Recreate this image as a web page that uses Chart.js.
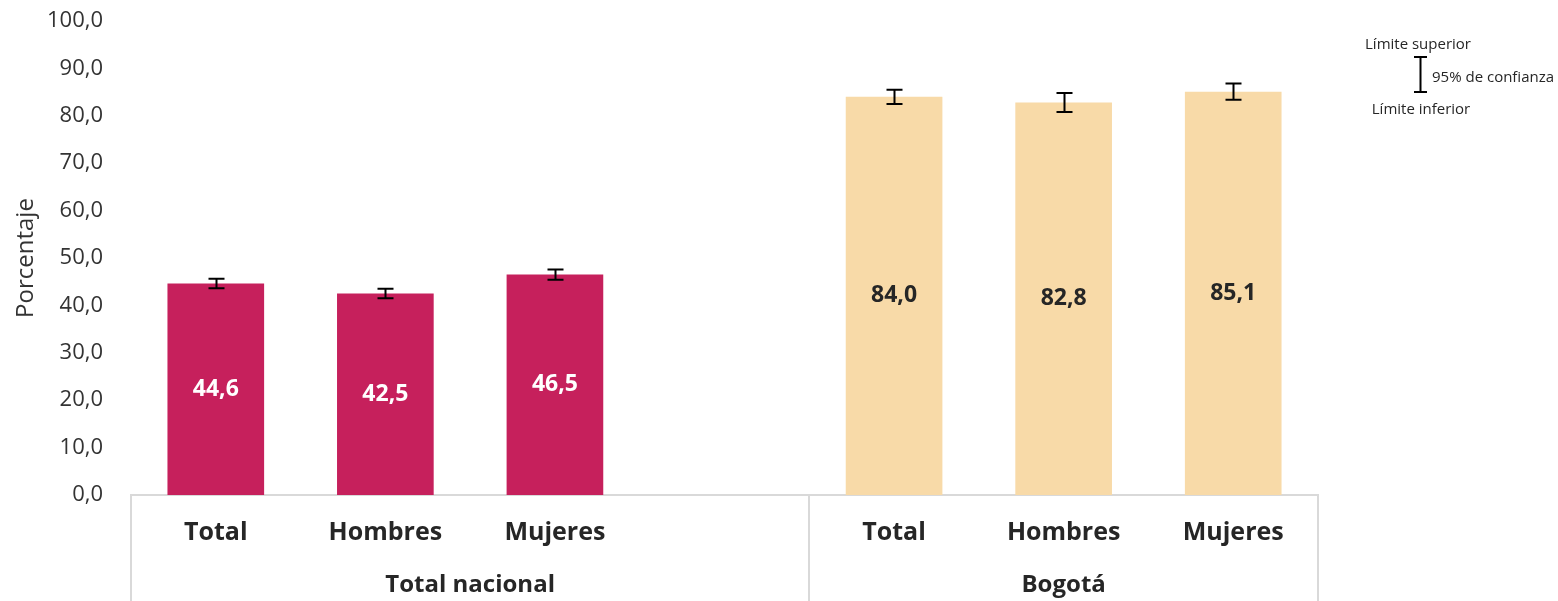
<!DOCTYPE html>
<html><head><meta charset="utf-8">
<script src="https://cdn.jsdelivr.net/npm/chart.js@4/dist/chart.umd.min.js"></script>
<style>html,body{margin:0;padding:0;background:#fff}#wrap{width:1558px;height:601px}</style>
</head><body><div id="wrap"><canvas id="c" width="1558" height="601"></canvas></div>
<script>
// ---- data ----
const categories = ["Total", "Hombres", "Mujeres", "", "Total", "Hombres", "Mujeres"];
const groups = ["Total nacional", "Bogotá"];
const groupStart = [0, 4];
const groupEnd = [4, 7];
const values = [44.6, 42.5, 46.5, null, 84.0, 82.8, 85.1];
const lowerCI = [43.6, 41.5, 45.4, null, 82.5, 80.8, 83.4];
const upperCI = [45.6, 43.5, 47.6, null, 85.5, 84.8, 86.8];
const yMin = 0, yMax = 100, yStep = 10;
const legendTexts = ["Límite superior", "95% de confianza", "Límite inferior"];

// ---- style ----
const FONT = "'Open Sans', 'Noto Sans', sans-serif";
const CRIMSON = '#C6205C';
const PEACH = '#F8DAA8';
const AXIS_GREY = '#d9d9d9';
const fmt = v => v.toFixed(1).replace('.', ',');

const errorBars = {
  id: 'errorBars',
  afterDatasetsDraw(chart) {
    const ctx = chart.ctx, meta = chart.getDatasetMeta(0), y = chart.scales.y;
    ctx.save();
    ctx.strokeStyle = '#000'; ctx.lineWidth = 2; ctx.lineCap = 'butt';
    meta.data.forEach((bar, i) => {
      if (values[i] == null) return;
      const x = Math.round(bar.x) + 0.5;
      const yl = y.getPixelForValue(lowerCI[i]), yu = y.getPixelForValue(upperCI[i]);
      ctx.beginPath();
      ctx.moveTo(x, yl); ctx.lineTo(x, yu);
      ctx.moveTo(x - 8, yl); ctx.lineTo(x + 8, yl);
      ctx.moveTo(x - 8, yu); ctx.lineTo(x + 8, yu);
      ctx.stroke();
    });
    // data labels
    ctx.font = `bold 23px ${FONT}`;
    ctx.textAlign = 'center'; ctx.textBaseline = 'middle';
    meta.data.forEach((bar, i) => {
      if (values[i] == null) return;
      ctx.fillStyle = i < 4 ? '#ffffff' : '#262626';
      ctx.fillText(fmt(values[i]), bar.x, (bar.y + bar.base) / 2);
    });
    ctx.restore();
  }
};

const groupAxis = {
  id: 'groupAxis',
  afterDraw(chart) {
    const ctx = chart.ctx, xs = chart.scales.x;
    const slot = (xs.right - xs.left) / categories.length;
    ctx.save();
    ctx.strokeStyle = AXIS_GREY; ctx.lineWidth = 2;
    const bounds = [0, groupEnd[0], categories.length];
    ctx.beginPath();
    bounds.forEach(b => {
      const x = Math.round(xs.left + slot * b);
      ctx.moveTo(x, xs.top); ctx.lineTo(x, chart.height);
    });
    ctx.stroke();
    ctx.fillStyle = '#262626';
    ctx.font = `bold 24px ${FONT}`;
    ctx.textAlign = 'center'; ctx.textBaseline = 'middle';
    groups.forEach((g, k) => {
      const cx = xs.left + slot * (groupStart[k] + groupEnd[k]) / 2;
      ctx.fillText(g, cx, 585);
    });
    // CI legend
    const lx = 1420;
    ctx.font = `15px ${FONT}`;
    ctx.fillStyle = '#262626';
    ctx.fillText(legendTexts[0], lx - 2, 45);
    ctx.fillText(legendTexts[2], lx + 1, 110);
    ctx.textAlign = 'left';
    ctx.fillText(legendTexts[1], lx + 12, 78);
    ctx.strokeStyle = '#000'; ctx.lineWidth = 2;
    ctx.beginPath();
    ctx.moveTo(lx + 0.5, 57); ctx.lineTo(lx + 0.5, 92);
    ctx.moveTo(lx - 6, 57); ctx.lineTo(lx + 7, 57);
    ctx.moveTo(lx - 6, 92); ctx.lineTo(lx + 7, 92);
    ctx.stroke();
    ctx.restore();
  }
};

new Chart(document.getElementById('c'), {
  type: 'bar',
  data: {
    labels: categories,
    datasets: [{
      data: values,
      backgroundColor: c => c.dataIndex < 4 ? CRIMSON : PEACH,
      barPercentage: 0.57,
      categoryPercentage: 1
    }]
  },
  options: {
    responsive: false,
    animation: false,
    layout: { padding: { top: 21, right: 240, bottom: 0, left: 0 } },
    plugins: { legend: { display: false }, tooltip: { enabled: false } },
    scales: {
      x: {
        grid: { display: false, drawTicks: false },
        border: { display: true, color: AXIS_GREY, width: 2 },
        ticks: { font: { family: FONT, size: 25, weight: 'bold' }, color: '#262626', padding: 23, autoSkip: false, maxRotation: 0 },
        afterFit(s) { s.height = 106; s.paddingLeft = 0; s.paddingRight = 0; }
      },
      y: {
        min: yMin, max: yMax,
        grid: { display: false, drawTicks: false },
        border: { display: false },
        ticks: { stepSize: yStep, callback: v => fmt(v), font: { family: FONT, size: 22 }, color: '#333333', padding: 28 },
        title: { display: true, text: 'Porcentaje', font: { family: FONT, size: 24 }, color: '#333333', padding: { top: 12, bottom: 0 } },
        afterFit(s) { s.width = 131; s.paddingTop = 0; s.paddingBottom = 0; }
      }
    }
  },
  plugins: [errorBars, groupAxis]
});
</script>
</body></html>
